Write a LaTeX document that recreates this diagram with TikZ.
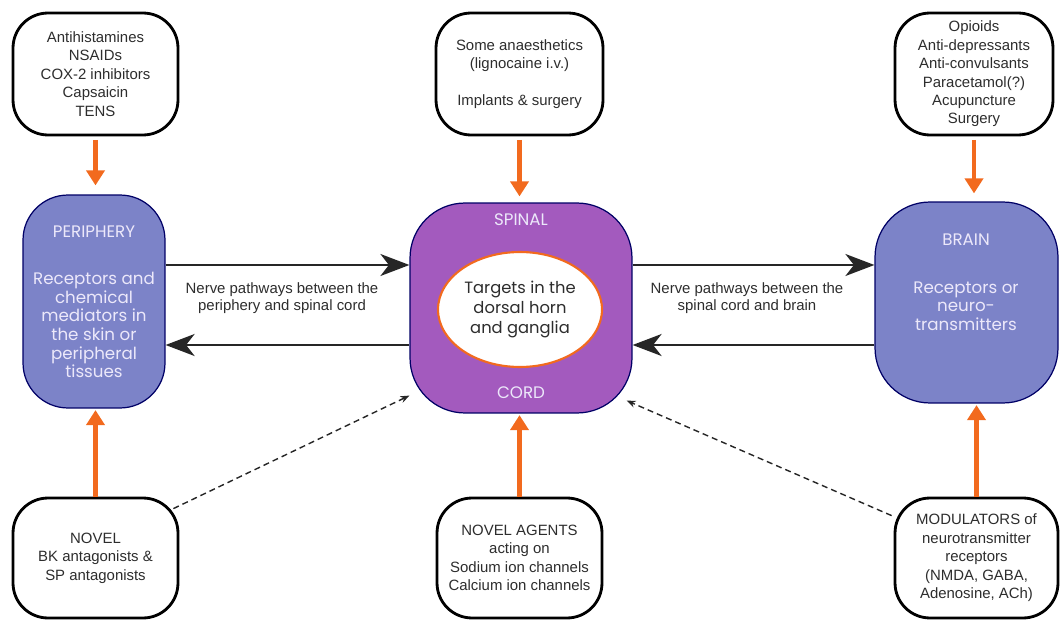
\documentclass[tikz,border=0pt]{standalone}
\usepackage{fontspec}
\setmainfont{Liberation Sans}
\newfontfamily\geo{Poppins}
\usetikzlibrary{arrows.meta,calc,shapes.geometric}
\definecolor{perblue}{RGB}{124,131,200}
\definecolor{spurple}{RGB}{163,90,190}
\definecolor{orng}{RGB}{242,106,30}
\definecolor{ltxt}{RGB}{236,232,250}
\definecolor{dtxt}{RGB}{45,45,45}
\begin{document}
\begin{tikzpicture}[x=0.02cm,y=-0.02cm,
  drug/.style={draw=black, line width=1.6pt, rounded corners=0.7cm, fill=white, align=center,
    text=dtxt, font=\fontsize{8.5}{10.5}\selectfont, inner sep=0pt},
  site/.style={draw=black!60!blue, line width=0.7pt, inner sep=0pt},
  geotxt/.style={text=ltxt, align=center, font=\geo\fontsize{9.5}{10.6}\selectfont, inner sep=0pt},
  oarr/.style={draw=orng, line width=2.8pt, -{Triangle[length=0.3cm,width=0.36cm]}},
  blk/.style={draw=black!85, line width=1.3pt, -{Stealth[length=0.58cm,width=0.44cm,inset=0.17cm]}},
  dsh/.style={draw=black!85, line width=0.8pt, dash pattern=on 0.12cm off 0.08cm, -{Stealth[length=0.18cm,width=0.14cm]}},
  nlab/.style={align=center, text=dtxt, font=\fontsize{8.5}{10}\selectfont, inner sep=0pt}
]
\useasboundingbox (0,0) rectangle (1060,621);

% drug boxes
\node[drug, minimum width=3.3cm, minimum height=2.44cm] (tl) at (95.5,74)
  {Antihistamines\\NSAIDs\\COX-2 inhibitors\\Capsaicin\\TENS};
\node[drug, minimum width=3.34cm, minimum height=2.44cm] (tm) at (519.5,74)
  {Some anaesthetics\\(lignocaine i.v.)\\[10.5pt]Implants \& surgery};
\node[drug, minimum width=3.16cm, minimum height=2.44cm] (tr) at (974,74)
  {Opioids\\Anti-depressants\\Anti-convulsants\\Paracetamol(?)\\Acupuncture\\Surgery};
\node[drug, minimum width=3.3cm, minimum height=2.4cm] (bl) at (95.5,558)
  {NOVEL\\BK antagonists \&\\SP antagonists};
\node[drug, minimum width=3.3cm, minimum height=2.4cm] (bm) at (519.5,558)
  {NOVEL AGENTS\\acting on\\Sodium ion channels\\Calcium ion channels};
\node[drug, minimum width=3.26cm, minimum height=2.4cm] (br) at (976.5,558)
  {MODULATORS of\\neurotransmitter\\receptors\\(NMDA, GABA,\\Adenosine, ACh)};

% sites
\node[site, fill=perblue, rounded corners=0.9cm, minimum width=2.84cm, minimum height=4.26cm] (per) at (94,301.5) {};
\node[site, fill=spurple, rounded corners=1.1cm, minimum width=4.44cm, minimum height=4.2cm] (sp) at (521,308) {};
\node[site, fill=perblue, rounded corners=1.1cm, minimum width=3.66cm, minimum height=4.02cm] (brn) at (966.5,302.5) {};

\node[ellipse, draw=orng, line width=1.2pt, fill=white, minimum width=3.28cm, minimum height=2.3cm,
  inner sep=0pt, align=center, text=dtxt, font=\geo\fontsize{9.3}{11.2}\selectfont] (ell) at (520,309.5)
  {Targets in the\\dorsal horn\\and ganglia};

\node[geotxt] (perT) at (94,232) {PERIPHERY};
\node[geotxt] (perB) at (94,325) {Receptors and\\chemical\\mediators in\\the skin or\\peripheral\\tissues};
\node[geotxt] (spT) at (521,220) {SPINAL};
\node[geotxt] (spB) at (521,393) {CORD};
\node[geotxt] (brT) at (966,240) {BRAIN};
\node[geotxt] (brB) at (966,306) {Receptors or\\neuro-\\transmitters};

% nerve labels
\node[nlab] (nl) at (282,298) {Nerve pathways between the\\periphery and spinal cord};
\node[nlab] (nr) at (747,298) {Nerve pathways between the\\spinal cord and brain};

% horizontal arrows
\coordinate (hA) at (0,265);
\coordinate (hB) at (0,345);
\draw[blk] (per.east |- hA) -- (sp.west |- hA);
\draw[blk] (sp.west |- hB) -- (per.east |- hB);
\draw[blk] (sp.east |- hA) -- (brn.west |- hA);
\draw[blk] (brn.west |- hB) -- (sp.east |- hB);

% orange arrows
\draw[oarr, shorten <=2pt, shorten >=0.18cm] (tl.south) -- (tl.south |- per.north);
\draw[oarr, shorten <=2pt, shorten >=0.12cm] (tm.south) -- (tm.south |- sp.north);
\draw[oarr, shorten <=2pt, shorten >=0.16cm] (tr.south) -- (tr.south |- brn.north);
\draw[oarr, shorten >=0.03cm] (bl.north) -- (bl.north |- per.south);
\draw[oarr, shorten >=0.03cm] (bm.north) -- (bm.north |- sp.south);
\draw[oarr, shorten >=0.03cm] (br.north) -- (br.north |- brn.south);

% dashed arrows
\coordinate (dl1) at ($(bl.north east)+(-6,12)$);
\coordinate (dl2) at ($(sp.south west)+(0,-18)$);
\coordinate (dr1) at ($(br.north west)+(-2,19)$);
\coordinate (dr2) at ($(sp.south east)+(-6,-13)$);
\draw[dsh] (dl1) -- (dl2);
\draw[dsh] (dr1) -- (dr2);
\end{tikzpicture}
\end{document}
